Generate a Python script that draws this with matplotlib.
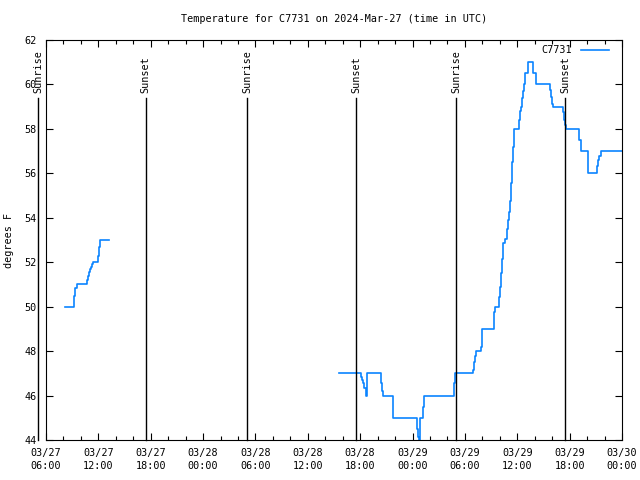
import matplotlib
matplotlib.use("Agg")
import matplotlib.pyplot as plt
import matplotlib.dates as mdates
import numpy as np
import pandas as pd

plt.rcParams['font.family'] = ['DejaVu Sans Mono']
plt.rcParams['font.size'] = 7.3

start = pd.Timestamp("2024-03-27 06:00")
end = pd.Timestamp("2024-03-30 00:00")

# hours after 03/27 06:00 UTC, temperature in F (step data)
hours1 = [2.18, 3.24, 3.36, 3.52, 4.55, 4.66, 4.77, 4.89, 5.00, 5.12, 5.27, 5.42,
          5.88, 5.96, 6.07, 6.19, 7.25]
temps1 = [50, 50.5, 50.83, 51, 51, 51.2, 51.4, 51.55, 51.7, 51.8, 51.9, 52,
          52, 52.3, 52.7, 53, 53]

hours2 = [33.57, 36.10, 36.25, 36.36, 36.47, 36.63, 36.78, 38.31, 38.39, 38.50, 38.62,
          39.73, 42.36, 42.48, 42.60, 42.70, 42.82, 42.86, 43.12, 43.20, 43.35,
          46.72, 46.83, 48.96, 49.08, 49.19, 49.31, 49.84, 49.92, 50.00,
          51.26, 51.30, 51.37, 51.41, 51.87, 51.90, 52.02, 52.14, 52.29, 52.40,
          52.56, 52.79, 52.94, 53.05, 53.17, 53.25, 53.36, 53.55, 53.63,
          54.12, 54.20, 54.31, 54.43, 54.54, 54.66, 54.74, 54.94, 55.20,
          55.84, 56.11, 57.67, 57.75, 57.90, 58.00, 58.13,
          59.20, 59.27, 59.35, 59.47, 59.55, 61.13, 61.27, 62.14,
          63.06, 63.17, 63.29, 63.40, 63.56, 66.0]
temps2 = [47, 46.85, 46.7, 46.55, 46.33, 46.0, 47, 47, 46.55, 46.2, 46.0,
          45, 45, 44.5, 44.15, 44.0, 44.5, 45, 45, 45.5, 46,
          46.55, 47, 47.15, 47.5, 47.8, 48, 48.2, 48.5, 49,
          49, 49.25, 49.77, 50, 50, 50.45, 50.9, 51.5, 52.15, 52.85,
          53.05, 53.5, 53.9, 54.27, 54.76, 55.55, 56.5, 57.2, 58,
          58, 58.4, 58.8, 59, 59.4, 59.7, 60, 60.5, 61,
          60.5, 60, 60, 59.75, 59.45, 59.1, 59,
          59, 58.78, 58.4, 58.17, 58, 57.5, 57, 56,
          56, 56.35, 56.6, 56.8, 57, 57]

# sun events, hours after 03/27 06:00 UTC
event_hours = [-0.88, 11.42, 23.07, 35.56, 47.02, 59.50]
event_names = ["Sunrise", "Sunset", "Sunrise", "Sunset", "Sunrise", "Sunset"]

t1 = start + pd.to_timedelta(hours1, unit="h")
t2 = start + pd.to_timedelta(hours2, unit="h")
te = start + pd.to_timedelta(event_hours, unit="h")

fig = plt.figure(figsize=(6.4, 4.8), dpi=100)
ax = fig.add_axes([46 / 640, 40 / 480, 576 / 640, 400 / 480])

color = "#0a84ff"
ax.plot(t1, temps1, drawstyle="steps-post", color=color, lw=1.2, label="C7731")
ax.plot(t2, temps2, drawstyle="steps-post", color=color, lw=1.2)

for t, name in zip(te, event_names):
    ax.plot([t, t], [44, 59.38], color="black", lw=1.0, clip_on=False)
    ax.text(t, 59.62, name, rotation=90, ha="center", va="bottom", clip_on=False)

ax.set_xlim(start, end)
ax.set_ylim(44, 62)
ax.set_yticks(np.arange(44, 63, 2))
ax.xaxis.set_major_locator(mdates.HourLocator(byhour=[0, 6, 12, 18]))
ax.xaxis.set_minor_locator(mdates.HourLocator(byhour=range(0, 24, 2)))
ax.xaxis.set_major_formatter(mdates.DateFormatter("%m/%d\n%H:%M"))
for lbl in ax.get_xticklabels():
    lbl.set_linespacing(1.35)

ax.tick_params(which="both", direction="in", top=True, right=True, width=0.8)
ax.tick_params(which="major", length=5)
ax.tick_params(which="minor", length=3)
ax.tick_params(axis="x", pad=6)
ax.tick_params(axis="y", pad=7)
for s in ax.spines.values():
    s.set_linewidth(0.8)

ax.set_ylabel("degrees F")
ax.yaxis.set_label_coords(-0.055, 0.5)
fig.text(334 / 640, 1 - 19 / 480, "Temperature for C7731 on 2024-Mar-27 (time in UTC)",
         ha="center", va="center")

ax.legend(loc="upper right", bbox_to_anchor=(1 - 8 / 576, 1.0), frameon=False,
          markerfirst=False, handlelength=2.8, borderaxespad=0.1, handletextpad=0.8)

plt.savefig("out.png", dpi=100)
